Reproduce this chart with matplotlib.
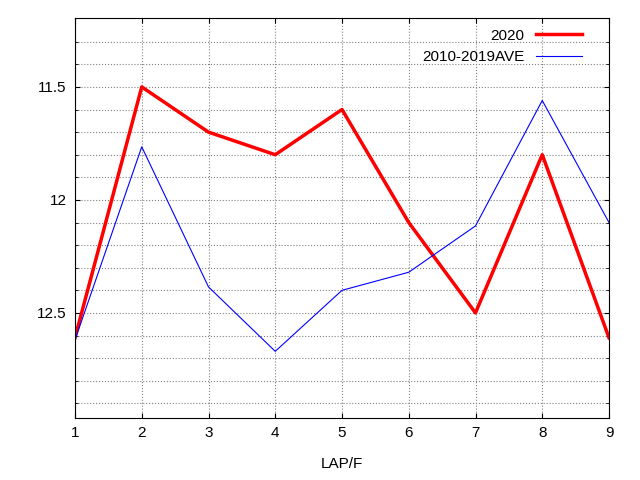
import matplotlib
matplotlib.use("Agg")
import matplotlib.pyplot as plt
import numpy as np

plt.rcParams['font.family'] = ['Liberation Sans', 'DejaVu Sans']

laps = [1, 2, 3, 4, 5, 6, 7, 8, 9]
y2020 = [12.61, 11.50, 11.70, 11.80, 11.60, 12.10, 12.50, 11.80, 12.61]
yave = [12.62, 11.765, 12.385, 12.67, 12.40, 12.32, 12.115, 11.56, 12.10]

fig = plt.figure(figsize=(6.4, 4.8), dpi=100)
ax = fig.add_axes([75/640, 1-418/480, (609-75)/640, (418-18)/480])
ax.plot(laps, y2020, color="red", lw=2.5, label="2020")
ax.plot(laps, yave, color="blue", lw=0.8, label="2010-2019AVE")
ax.set_xlim(1, 9)
ax.set_ylim(12.965, 11.195)
ax.set_xticks(laps)
ax.set_yticks([11.5, 12.0, 12.5])
ax.set_yticklabels(["11.5", "12", "12.5"])
ax.set_yticks(np.arange(11.3, 12.95, 0.1), minor=True)
ax.grid(True, which="both", color="gray", ls=":", lw=0.8)
ax.tick_params(direction="in", which="both", top=True, right=True, labelsize=11, pad=6)
ax.set_xlabel("LAP/F", fontsize=11, labelpad=12)
leg = ax.legend(loc="upper right", frameon=False, markerfirst=False, fontsize=11,
                handlelength=3, borderaxespad=0.3, bbox_to_anchor=(0.97, 1.0))
fig.savefig("out.png", dpi=100)
